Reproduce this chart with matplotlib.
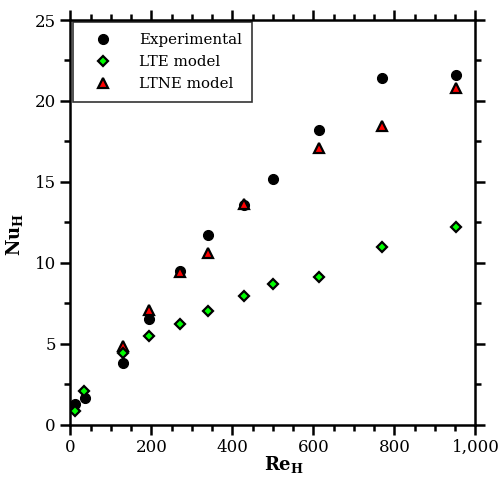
import matplotlib
matplotlib.use("Agg")
import matplotlib.pyplot as plt
from matplotlib.ticker import MultipleLocator, FuncFormatter

# Nusselt number vs Reynolds number
exp_re = [11, 35, 130, 195, 270, 340, 428, 500, 614, 770, 953]
exp_nu = [1.28, 1.67, 3.81, 6.55, 9.5, 11.72, 13.55, 15.15, 18.2, 21.4, 21.6]

lte_re = [10, 33, 130, 195, 270, 340, 428, 500, 613, 770, 953]
lte_nu = [0.85, 2.1, 4.45, 5.5, 6.2, 7.04, 7.97, 8.67, 9.14, 10.98, 12.19]

ltne_re = [130, 195, 270, 340, 428, 614, 770, 953]
ltne_nu = [4.88, 7.08, 9.41, 10.6, 13.65, 17.1, 18.47, 20.78]

plt.rcParams["font.family"] = "DejaVu Serif"
plt.rcParams["mathtext.fontset"] = "dejavuserif"

fig = plt.figure(figsize=(5.01, 4.82), dpi=100)
ax = fig.add_axes([0.1407, 0.1189, 0.8083, 0.8396])

ax.plot(exp_re, exp_nu, linestyle="none", marker="o", markersize=7.2,
        markerfacecolor="black", markeredgecolor="black", markeredgewidth=0.8,
        label="Experimental", zorder=2)
ax.plot(lte_re, lte_nu, linestyle="none", marker="D", markersize=5.2,
        markerfacecolor="#00ff00", markeredgecolor="black", markeredgewidth=1.6,
        label="LTE model", zorder=4)
ax.plot(ltne_re, ltne_nu, linestyle="none", marker="^", markersize=7.0,
        markerfacecolor="#ff0000", markeredgecolor="black", markeredgewidth=1.6,
        label="LTNE model", zorder=3)

ax.set_xlim(0, 1000)
ax.set_ylim(0, 25)
ax.xaxis.set_major_locator(MultipleLocator(200))
ax.xaxis.set_minor_locator(MultipleLocator(50))
ax.yaxis.set_major_locator(MultipleLocator(5))
ax.yaxis.set_minor_locator(MultipleLocator(2.5))
ax.xaxis.set_major_formatter(FuncFormatter(lambda v, p: f"{int(v):,}"))

for s in ax.spines.values():
    s.set_linewidth(1.8)

ax.tick_params(which="both", direction="out", top=True, right=True,
               labeltop=False, labelright=False, width=1.8)
ax.tick_params(which="major", length=7.5, labelsize=12, pad=3)
ax.tick_params(which="minor", length=4.5)

ax.set_xlabel(r"$\mathbf{Re}_{\mathbf{H}}$", fontsize=13)
ax.set_ylabel(r"$\mathbf{Nu}_{\mathbf{H}}$", fontsize=13)
ax.xaxis.set_label_coords(0.527, -0.072)
ax.yaxis.set_label_coords(-0.112, 0.47)

leg = ax.legend(loc="upper left", frameon=True, fancybox=False,
                prop={"family": "DejaVu Serif", "size": 10.8},
                borderaxespad=0.15, handletextpad=1.0, labelspacing=0.55,
                borderpad=0.7, handlelength=2.7)
leg.get_frame().set_edgecolor("black")
leg.get_frame().set_linewidth(1.2)

fig.savefig("out.png", dpi=100)
